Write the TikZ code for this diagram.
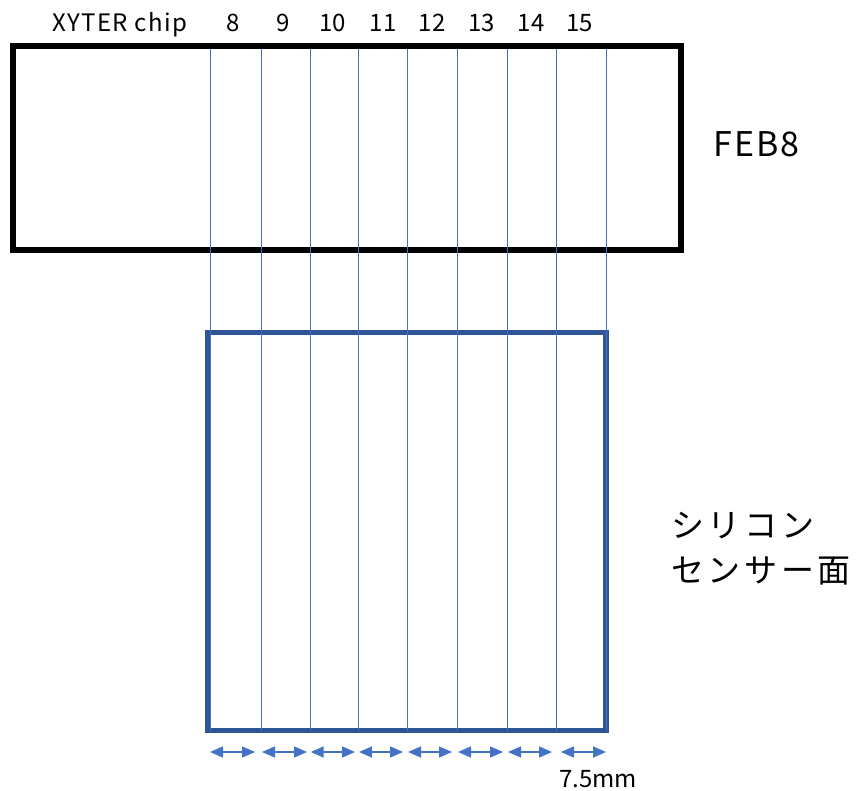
\documentclass[tikz,border=0pt]{standalone}
\usepackage{fontspec}
\setmainfont{Noto Sans CJK JP}
\newfontfamily\widefont[LetterSpace=6]{Noto Sans CJK JP}
\newfontfamily\jpwide[LetterSpace=11]{Noto Sans CJK JP}
\usetikzlibrary{arrows.meta}
\definecolor{frameblue}{HTML}{2F5597}
\definecolor{lineblue}{HTML}{4472C4}
\tikzset{
  lbl/.style={inner sep=0pt, anchor=base west, font=\fontsize{24}{28}\selectfont},
  num/.style={inner sep=0pt, anchor=base, font=\fontsize{24}{28}\selectfont},
  chan/.style={draw=lineblue, line width=0.9pt},
  dim/.style={draw=lineblue, line width=1.5pt, {Triangle[length=13pt,width=11pt]}-{Triangle[length=13pt,width=11pt]}},
}
\begin{document}
\begin{tikzpicture}[x=1pt,y=-1pt]
\useasboundingbox (0,0) rectangle (859,791);
% FEB8 board
\draw[black, line width=6pt] (13.3,46.3) rectangle (681,249.7);
% sensor
\draw[frameblue, line width=5.5pt] (208,332.5) rectangle (606,730.5);
% channel boundary lines
\foreach \x [count=\i] in {210,261,310,358.5,407,457,507,556.5,606} {
  \coordinate (t\i) at (\x,49.3);
  \coordinate (b\i) at (\x,730.5);
  \draw[chan] (t\i) -- (b\i);
}
% labels
\node[lbl, font=\fontsize{24}{28}\widefont] (xyter) at (52,31.7) {XYTER chip};
\foreach \n/\x in {8/233,9/283,10/332.5,11/383,12/432,13/481.5,14/531,15/579.5} {
  \node[num] (n\n) at (\x,31.7) {\n};
}
\node[inner sep=0pt, anchor=base west, font=\fontsize{34}{40}\widefont] (feblbl) at (713,157) {FEB8};
\node[inner sep=0pt, anchor=base west, font=\fontsize{33}{43}\jpwide] (si) at (671,537) {シリコン};
\node[inner sep=0pt, anchor=base west, font=\fontsize{33}{43}\jpwide] (si2) at (671,582) {センサー面};
% dimension arrows
\foreach \a/\b [count=\i] in {210/255,262/307,310.7/355,359/403,408/452,458/503,508/552,561/606} {
  \coordinate (da\i) at (\a,752);
  \coordinate (db\i) at (\b,752);
  \draw[dim] (da\i) -- (db\i);
}
\node[lbl] (mm) at (559,787) {7.5mm};
\end{tikzpicture}
\end{document}
